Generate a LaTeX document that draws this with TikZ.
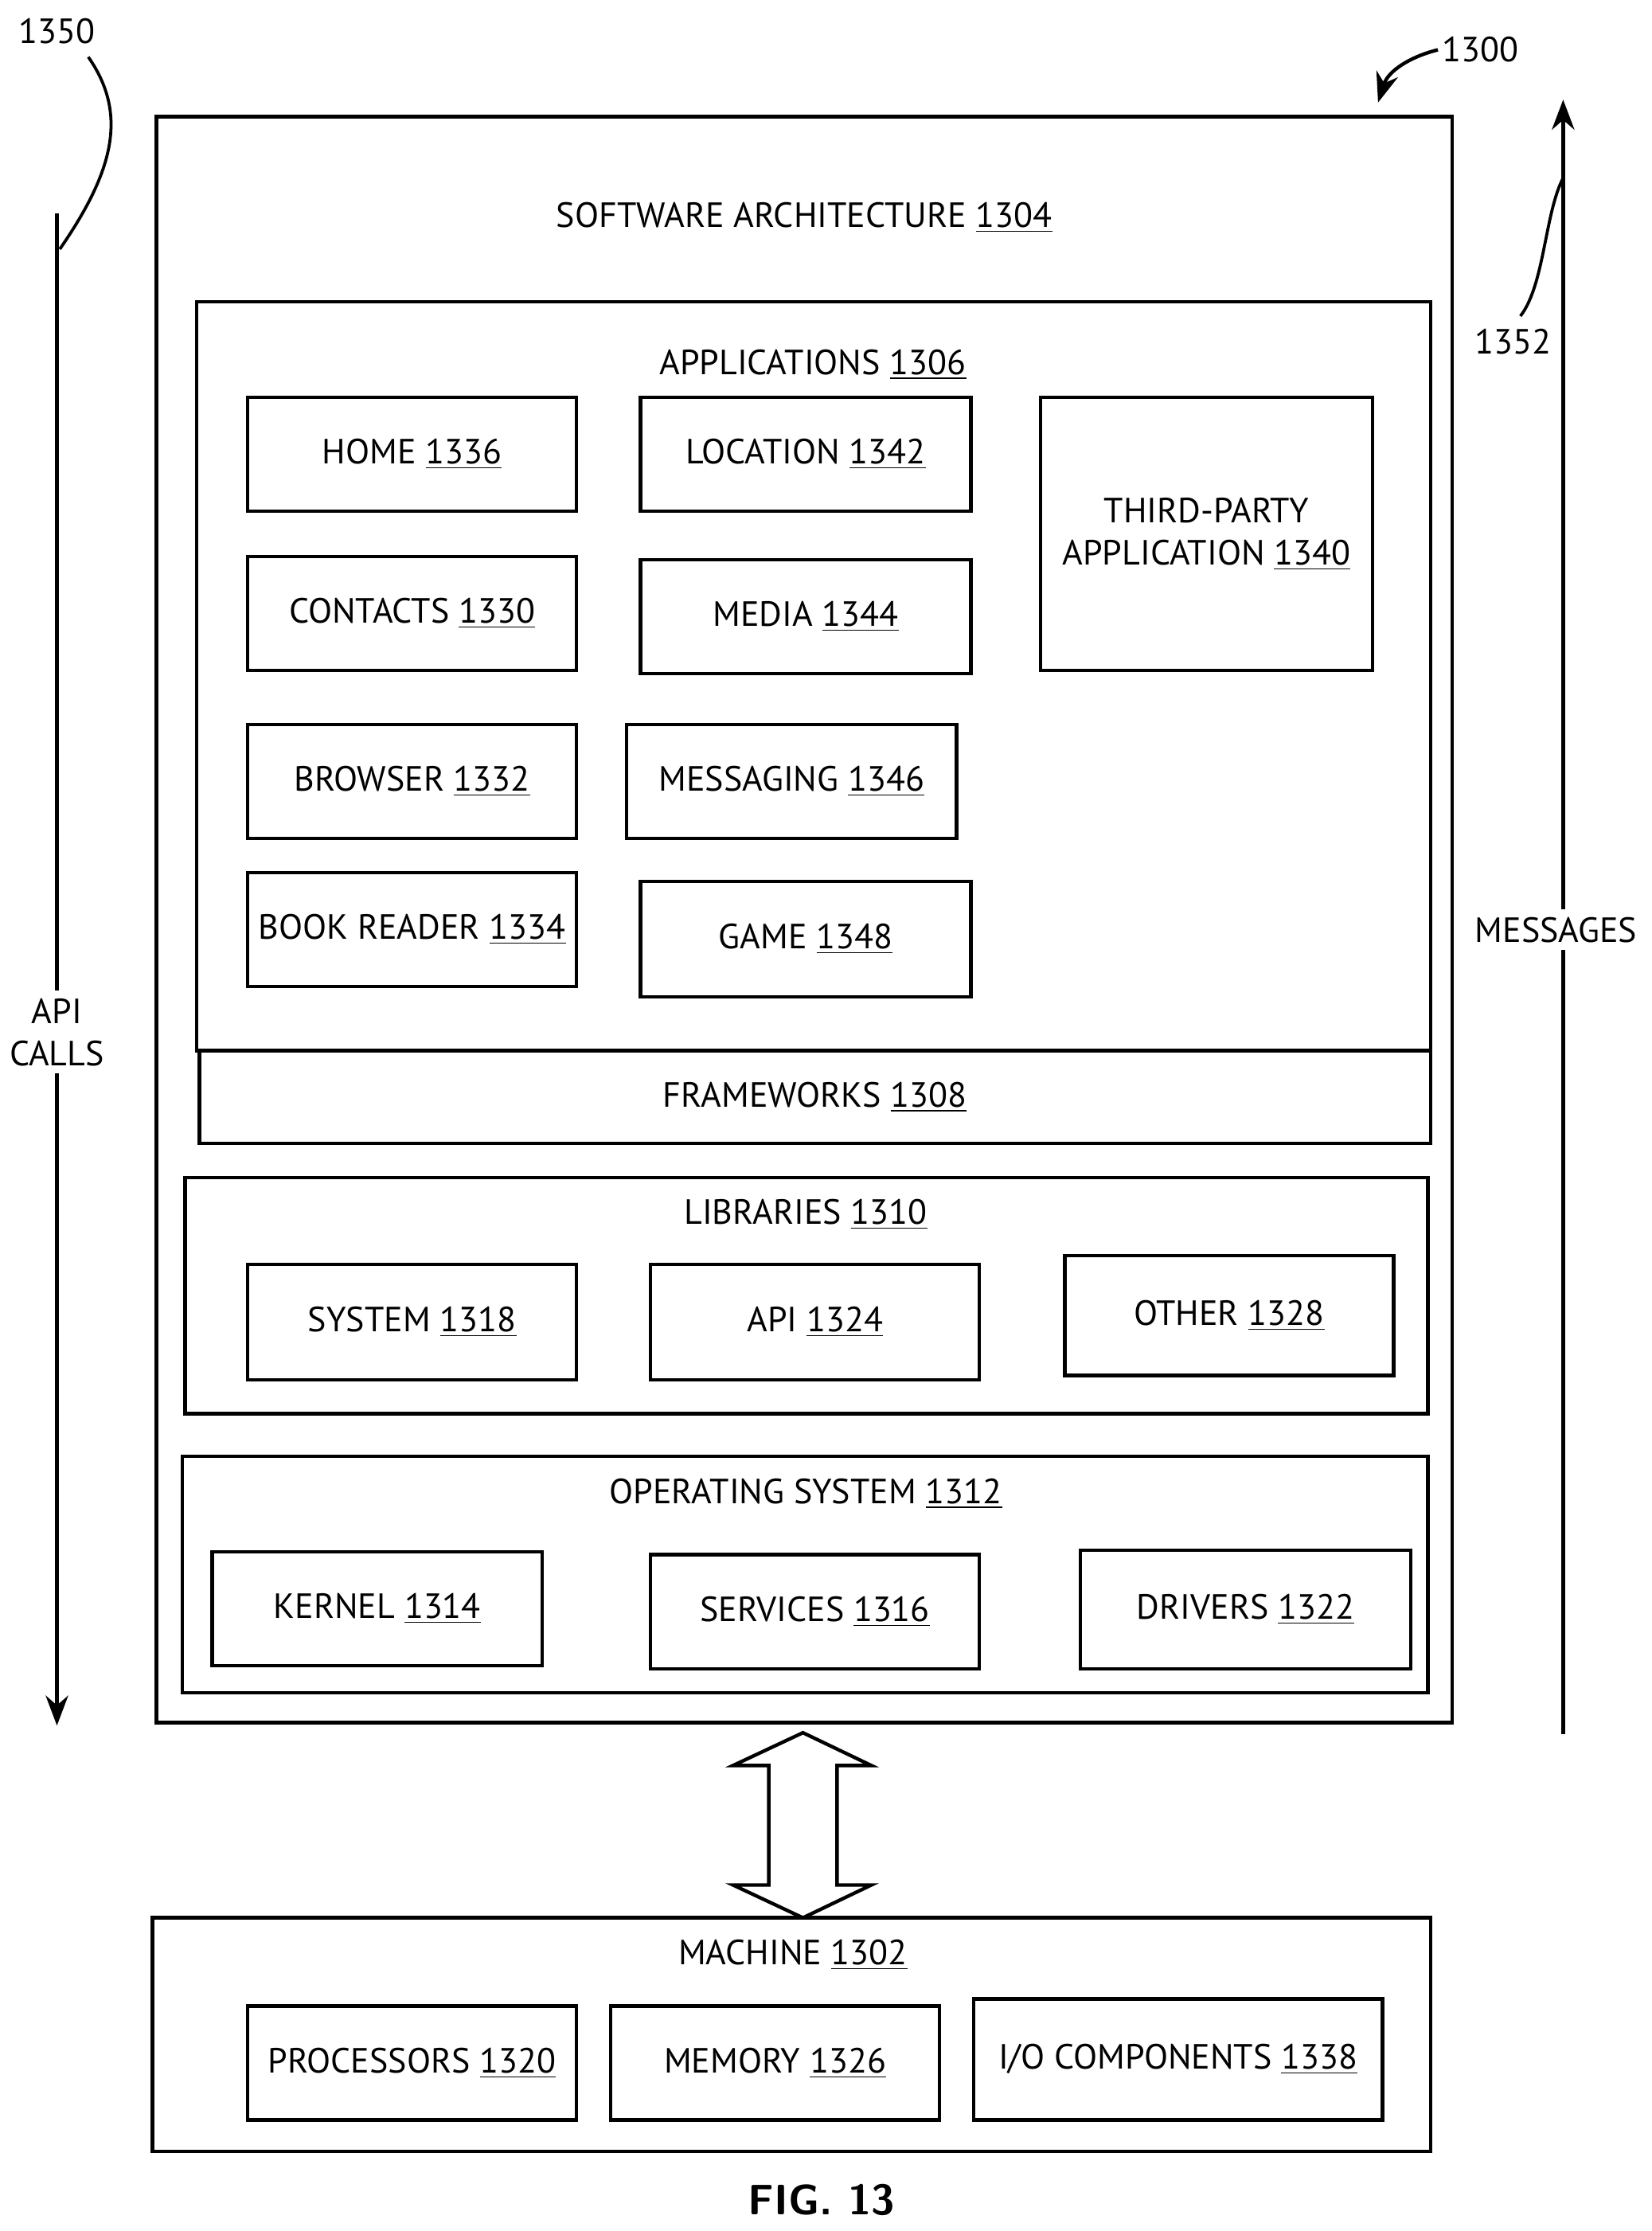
\documentclass[tikz,border=0pt]{standalone}
\usepackage{fontspec}
\setmainfont{PT Sans}
\usetikzlibrary{arrows.meta}
\begin{document}
\begin{tikzpicture}[x=0.02cm,y=-0.02cm,
  bx/.style={draw,line width=1.4pt},
  lb/.style={font=\fontsize{14}{17}\selectfont,inner sep=1pt,align=center},
  arr/.style={line width=1.4pt,-{Stealth[length=12pt,width=9pt]}}]
\useasboundingbox (0,0) rectangle (1160,1567);
\newcommand{\un}[1]{\underline{#1}}
\newcommand{\bxn}[6]{\draw[bx] (#1,#2) rectangle (#3,#4); \node[lb] (#5) at ({(#1+#3)/2},{(#2+#4)/2}) {#6};}
% outer
\draw[bx] (110,82) rectangle (1020,1210);
\node[lb] (sa) at (565,153) {SOFTWARE ARCHITECTURE \un{1304}};
\draw[bx] (138,212) rectangle (1005,738);
\node[lb] (apps) at (571,256) {APPLICATIONS \un{1306}};
\bxn{174}{279}{405}{359}{home}{HOME \un{1336}}
\bxn{450}{279}{682}{359}{loc}{LOCATION \un{1342}}
\bxn{731}{279}{964}{471}{tp}{THIRD-PARTY\\APPLICATION \un{1340}}
\bxn{174}{391}{405}{471}{con}{CONTACTS \un{1330}}
\bxn{450}{393}{682}{473}{med}{MEDIA \un{1344}}
\bxn{174}{509}{405}{589}{bro}{BROWSER \un{1332}}
\bxn{440}{509}{672}{589}{msg}{MESSAGING \un{1346}}
\bxn{174}{613}{405}{693}{book}{BOOK READER \un{1334}}
\bxn{450}{619}{682}{700}{game}{GAME \un{1348}}
\bxn{140}{738}{1005}{803}{fw}{FRAMEWORKS \un{1308}}
\draw[bx] (130,827) rectangle (1003,993);
\node[lb] (lib) at (566,853) {LIBRARIES \un{1310}};
\bxn{174}{888}{405}{969}{sys}{SYSTEM \un{1318}}
\bxn{457}{888}{688}{969}{api}{API \un{1324}}
\bxn{748}{882}{979}{966}{oth}{OTHER \un{1328}}
\draw[bx] (128,1023) rectangle (1003,1189);
\node[lb] (os) at (566,1049) {OPERATING SYSTEM \un{1312}};
\bxn{149}{1090}{381}{1170}{ker}{KERNEL \un{1314}}
\bxn{457}{1092}{688}{1172}{ser}{SERVICES \un{1316}}
\bxn{759}{1089}{991}{1172}{drv}{DRIVERS \un{1322}}
% machine
\draw[bx] (107,1347) rectangle (1005,1511);
\node[lb] (mach) at (557,1373) {MACHINE \un{1302}};
\bxn{174}{1409}{405}{1489}{proc}{PROCESSORS \un{1320}}
\bxn{429}{1409}{660}{1489}{mem}{MEMORY \un{1326}}
\bxn{684}{1404}{971}{1489}{io}{I/O COMPONENTS \un{1338}}
% double arrow
\draw[line width=1.4pt,line join=miter] (564,1217) -- (612,1240) -- (588,1240) -- (588,1324) -- (612,1324) -- (564,1347) -- (515,1324) -- (540,1324) -- (540,1240) -- (515,1240) -- cycle;
% api calls
\coordinate (a1) at (40,150); \coordinate (a2) at (40,1212);
\draw[arr] (a1) -- (a2);
\node[lb,fill=white,inner sep=3pt] (apil) at (40,725) {API\\CALLS};
\node[lb] (n1350) at (40,22) {1350};
\draw[line width=1.2pt] (62,40) .. controls (90,80) and (80,120) .. (42,175);
% messages
\coordinate (m1) at (1098,1218); \coordinate (m2) at (1098,70);
\draw[arr] (m1) -- (m2);
\node[lb,fill=white,inner sep=3pt] (msgl) at (1093,653) {MESSAGES};
\node[lb] (n1352) at (1063,240) {1352};
\draw[line width=1.2pt] (1068,222) .. controls (1085,200) and (1085,150) .. (1098,125);
% 1300
\node[lb] (n1300) at (1040,35) {1300};
\draw[arr] (1010,35) .. controls (990,40) and (975,50) .. (968,72);
\node[font=\fontsize{17}{19}\selectfont\bfseries\sffamily] (fig) at (577,1545) {FIG. 13};
\end{tikzpicture}
\end{document}
